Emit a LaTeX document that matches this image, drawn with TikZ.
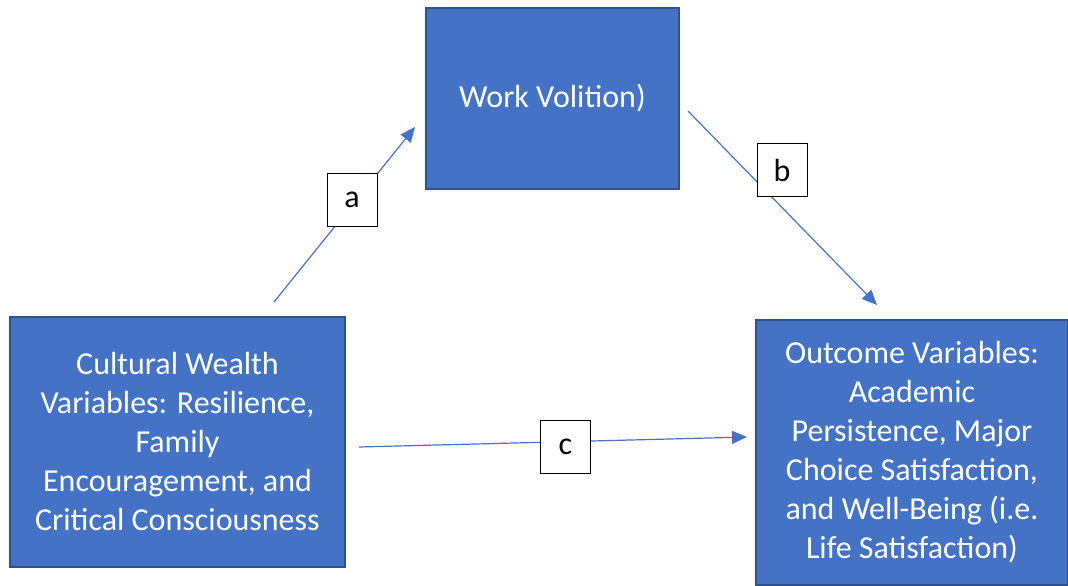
\documentclass[tikz,border=0pt]{standalone}
\usepackage{fontspec}
\setmainfont{Carlito}
\usetikzlibrary{arrows.meta}
\definecolor{boxfill}{HTML}{4472C4}
\definecolor{boxline}{HTML}{2F528F}
\tikzset{
  varbox/.style={draw=boxline, line width=1.5pt, fill=boxfill, text=white, align=center,
    font=\fontsize{32}{39}\selectfont, inner sep=0pt},
  labbox/.style={draw=black, line width=1pt, fill=white, minimum width=50pt, minimum height=53pt,
    inner sep=0pt, font=\fontsize{32}{36}\selectfont},
  conn/.style={draw=boxfill, line width=1.2pt, -{Triangle[length=15pt,width=13pt]}}
}
\begin{document}
\begin{tikzpicture}[x=1pt,y=-1pt]
\useasboundingbox (0,0) rectangle (1068,586);
\node[varbox, minimum width=253pt, minimum height=181pt] (wv) at (552.5,98.5) {Work Volition)};
\node[varbox, minimum width=335pt, minimum height=250pt] (cw) at (177.5,442) {Cultural Wealth\\Variables: Resilience,\\Family\\Encouragement, and\\Critical Consciousness};
\node[varbox, minimum width=312pt, minimum height=265pt] (ov) at (912,452.5) {Outcome Variables:\\Academic\\Persistence, Major\\Choice Satisfaction,\\and Well-Being (i.e.\\Life Satisfaction)};
\coordinate (sa) at (274,302);
\coordinate (ea) at (415,127);
\coordinate (sb) at (688,111);
\coordinate (eb) at (877,305);
\coordinate (sc) at (359,447);
\coordinate (ec) at (747,437);
\draw[conn] (sa) -- (ea);
\draw[conn] (sb) -- (eb);
\draw[conn] (sc) -- (ec);
\node[labbox] (la) at (352,200) {a};
\node[labbox] (lb) at (782,170) {b};
\node[labbox] (lc) at (565.5,446.5) {c};
\end{tikzpicture}
\end{document}
